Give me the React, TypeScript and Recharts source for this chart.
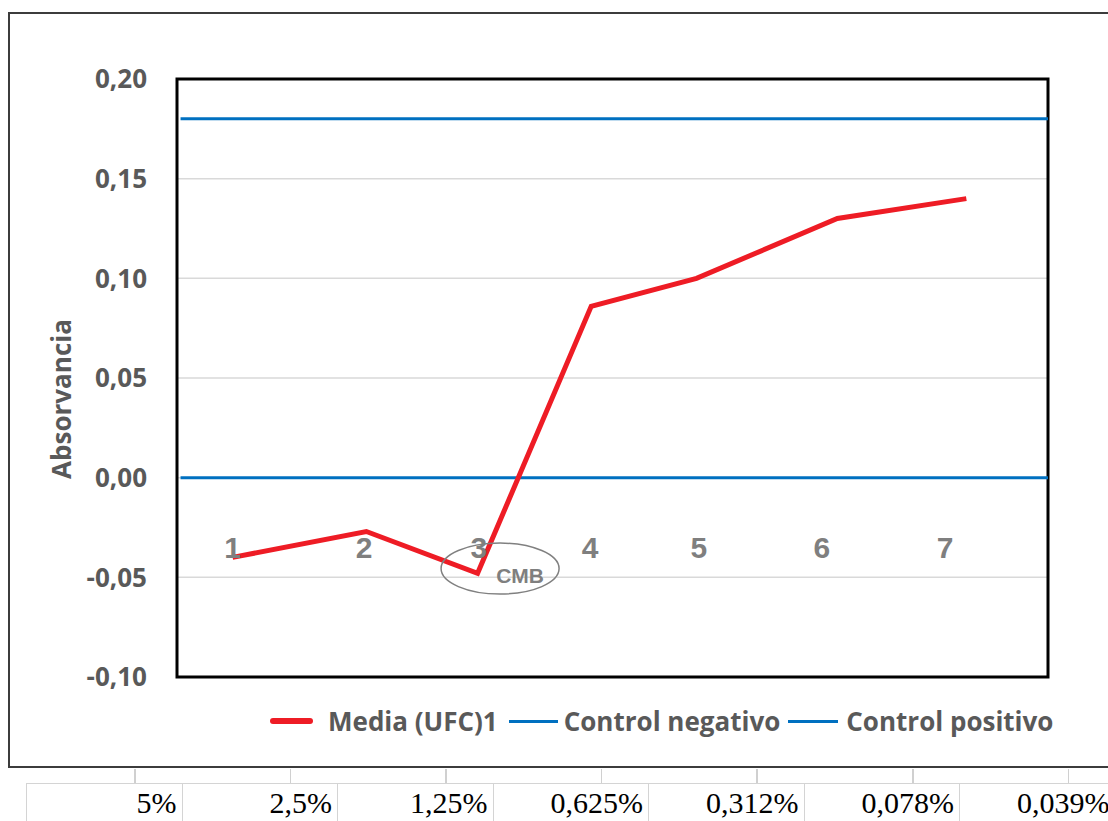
import React from "react";
import {
  ComposedChart,
  Line,
  Scatter,
  XAxis,
  YAxis,
  CartesianGrid,
  Legend,
  ReferenceArea,
  ReferenceDot,
  LabelList,
} from "recharts";

// values
const categories = ["1", "2", "3", "4", "5", "6", "7"];
const categoryX = [1.0, 2.11, 3.08, 4.02, 4.94, 5.98, 7.02];
const mediaX = [1.0, 2.13, 3.07, 4.03, 4.92, 6.11, 7.2];
const mediaUfc = [-0.04, -0.027, -0.048, 0.086, 0.1, 0.13, 0.14];
const controlNegativo = 0;
const controlPositivo = 0.18;
const yTicks = [-0.1, -0.05, 0, 0.05, 0.1, 0.15, 0.2];
const concentrations = ["5%", "2,5%", "1,25%", "0,625%", "0,312%", "0,078%", "0,039%"];

const X_DOMAIN: [number, number] = [0.53, 7.89];
const Y_DOMAIN: [number, number] = [-0.1, 0.2];
const CONTROL_START = 0.56;
const LABEL_LEVEL = -0.0348;
const CMB_POINT = { x: 3.26, y: -0.0456 };

const mediaData = mediaX.map((x, i) => ({ x, y: mediaUfc[i] }));
const negativoData = [
  { x: CONTROL_START, y: controlNegativo },
  { x: X_DOMAIN[1], y: controlNegativo },
];
const positivoData = [
  { x: CONTROL_START, y: controlPositivo },
  { x: X_DOMAIN[1], y: controlPositivo },
];
const labelData = categories.map((name, i) => ({ x: categoryX[i], y: LABEL_LEVEL, name }));

const SANS = "'Open Sans', 'DejaVu Sans', sans-serif";
const GREY = "#595959";
const RED = "#ee1c25";
const BLUE = "#0070c0";

const legendOrder = ["Media (UFC)1", "Control negativo", "Control positivo"];
const legendLook: Record<string, { w: number; h: number; gap: number; after: number }> = {
  "Media (UFC)1": { w: 43, h: 6, gap: 15, after: 11 },
  "Control negativo": { w: 49, h: 3, gap: 6, after: 8 },
  "Control positivo": { w: 50, h: 3, gap: 8, after: 0 },
};

const renderLegend = (props: any) => {
  const items = (props.payload || [])
    .filter((p: any) => legendOrder.includes(p.value))
    .sort((a: any, b: any) => legendOrder.indexOf(a.value) - legendOrder.indexOf(b.value));
  return (
    <div
      style={{
        display: "flex",
        alignItems: "center",
        paddingLeft: 270,
        fontFamily: SANS,
        fontWeight: 700,
        fontSize: 26,
        lineHeight: "34px",
        color: GREY,
        whiteSpace: "nowrap",
      }}
    >
      {items.map((item: any) => {
        const look = legendLook[item.value];
        return (
          <div key={item.value} style={{ display: "flex", alignItems: "center", marginRight: look.after }}>
            <div
              style={{
                width: look.w,
                height: look.h,
                background: item.color,
                borderRadius: look.h > 4 ? 3 : 0,
                marginRight: look.gap,
              }}
            />
            <span>{item.value}</span>
          </div>
        );
      })}
    </div>
  );
};

const renderTitle = (props: any) => {
  const vb = props.viewBox || { x: 57, y: 79, height: 598 };
  const x = vb.x + 4;
  const y = vb.y + vb.height / 2 + 21;
  return (
    <text
      x={x}
      y={y}
      transform={`rotate(-90, ${x}, ${y})`}
      textAnchor="middle"
      dominantBaseline="central"
      fill={GREY}
      fontFamily={SANS}
      fontWeight={700}
      fontSize={26}
    >
      Absorvancia
    </text>
  );
};

const NoMark = () => <g />;

const CmbMark = (props: any) => (
  <g>
    <ellipse cx={props.cx} cy={props.cy} rx={59} ry={25.5} fill="none" stroke="#808080" strokeWidth={1.5} />
    <text
      x={props.cx + 20}
      y={props.cy + 14.5}
      textAnchor="middle"
      fill="#7f7f7f"
      fontFamily="'Liberation Sans', Arial, sans-serif"
      fontWeight={700}
      fontSize={21}
    >
      CMB
    </text>
  </g>
);

const formatTick = (v: number) => v.toFixed(2).replace(".", ",");

export default function App() {
  return (
    <div
      style={{
        position: "absolute",
        left: 0,
        top: 0,
        width: 1108,
        height: 821,
        overflow: "hidden",
        background: "#fff",
      }}
    >
      {/* outer chart frame */}
      <div
        style={{
          position: "absolute",
          left: 8,
          top: 12,
          width: 1120,
          height: 756,
          border: "2px solid #3c3c3c",
          borderRight: "none",
          boxSizing: "border-box",
        }}
      />
      {/* spreadsheet cell lines under the chart */}
      {concentrations.map((_, i) => (
        <div
          key={"t" + i}
          style={{
            position: "absolute",
            left: 134 + i * 155.6,
            top: 769,
            width: 1.5,
            height: 14,
            background: "#d0d0d0",
          }}
        />
      ))}
      {concentrations.map((c, i) => (
        <div
          key={c}
          style={{
            position: "absolute",
            left: 26 + i * 155.5,
            top: 783,
            width: 155.5,
            height: 40,
            borderLeft: "1.5px solid #d4d4d4",
            borderTop: "1.5px solid #d4d4d4",
            boxSizing: "border-box",
            textAlign: "right",
            paddingRight: 5,
            paddingTop: 4,
            fontFamily: "'Liberation Serif', 'Times New Roman', serif",
            fontSize: 30,
            lineHeight: "30px",
            color: "#000",
          }}
        >
          {c}
        </div>
      ))}
      <div style={{ position: "absolute", left: 0, top: 0 }}>
        <ComposedChart width={1108} height={821} margin={{ top: 79, right: 60, bottom: 144, left: 57 }}>
          <CartesianGrid horizontal vertical={false} stroke="#d9d9d9" strokeWidth={1.5} />
          <XAxis type="number" dataKey="x" domain={X_DOMAIN} allowDataOverflow hide />
          <YAxis
            type="number"
            dataKey="y"
            domain={Y_DOMAIN}
            ticks={yTicks}
            width={120}
            axisLine={false}
            tickLine={false}
            tickSize={0}
            tickMargin={30}
            tickFormatter={formatTick}
            tick={{ fill: GREY, fontSize: 26, fontWeight: 700, fontFamily: SANS }}
            label={{ content: renderTitle }}
          />
          <ReferenceArea
            x1={X_DOMAIN[0]}
            x2={X_DOMAIN[1]}
            y1={Y_DOMAIN[0]}
            y2={Y_DOMAIN[1]}
            fill="none"
            fillOpacity={0}
            stroke="#000"
            strokeWidth={3}
          />
          <Line
            name="Control negativo"
            data={negativoData}
            dataKey="y"
            stroke={BLUE}
            strokeWidth={3}
            dot={false}
            isAnimationActive={false}
          />
          <Line
            name="Control positivo"
            data={positivoData}
            dataKey="y"
            stroke={BLUE}
            strokeWidth={3}
            dot={false}
            isAnimationActive={false}
          />
          <Scatter data={labelData} dataKey="y" shape={NoMark} legendType="none" isAnimationActive={false}>
            <LabelList
              dataKey="name"
              position="center"
              fill="#7f7f7f"
              fontSize={30}
              fontWeight={700}
              fontFamily="'Liberation Sans', Arial, sans-serif"
            />
          </Scatter>
          <Line
            name="Media (UFC)1"
            data={mediaData}
            dataKey="y"
            stroke={RED}
            strokeWidth={5}
            dot={false}
            isAnimationActive={false}
          />
          <ReferenceDot x={CMB_POINT.x} y={CMB_POINT.y} r={1} shape={CmbMark} />
          <Legend
            layout="horizontal"
            verticalAlign="middle"
            align="center"
            content={renderLegend}
            wrapperStyle={{ top: 704, left: 0, width: 1108 }}
          />
        </ComposedChart>
      </div>
    </div>
  );
}
